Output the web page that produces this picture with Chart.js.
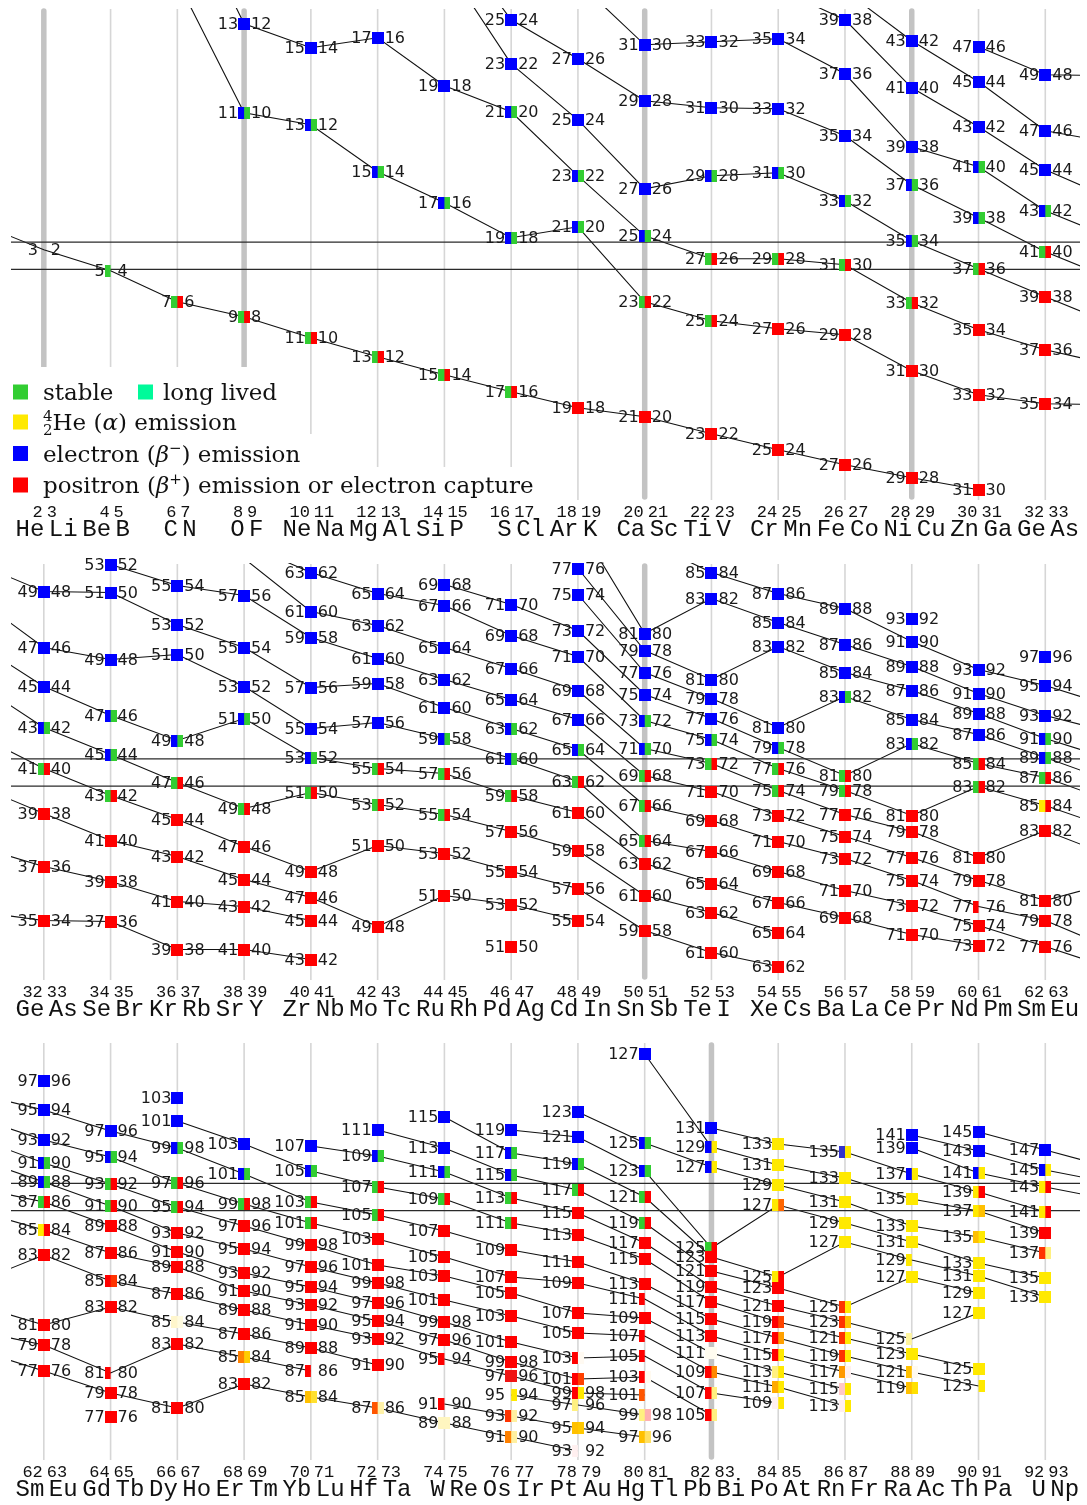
<!DOCTYPE html>
<html>
<head>
<meta charset="utf-8">
<script src="https://cdn.jsdelivr.net/npm/chart.js@4.4.0/dist/chart.umd.min.js"></script>
<style>
  body { margin: 0; background: #fff; }
  canvas { display: block; }
</style>
</head>
<body>
<canvas id="light" width="1087" height="545"></canvas>
<canvas id="middle" width="1087" height="480"></canvas>
<canvas id="heavy" width="1087" height="480"></canvas>
<script>
// element symbols, index = Z - 1
const elementSymbols = ['H','He','Li','Be','B','C','N','O','F','Ne','Na','Mg','Al','Si','P','S','Cl','Ar','K','Ca',
  'Sc','Ti','V','Cr','Mn','Fe','Co','Ni','Cu','Zn','Ga','Ge','As','Se','Br','Kr','Rb','Sr','Y','Zr',
  'Nb','Mo','Tc','Ru','Rh','Pd','Ag','Cd','In','Sn','Sb','Te','I','Xe','Cs','Ba','La','Ce','Pr','Nd',
  'Pm','Sm','Eu','Gd','Tb','Dy','Ho','Er','Tm','Yb','Lu','Hf','Ta','W','Re','Os','Ir','Pt','Au','Hg',
  'Tl','Pb','Bi','Po','At','Rn','Fr','Ra','Ac','Th','Pa','U','Np'];

const panelFirstColumn = [2, 32, 62];
const magicNumbers = [2, 8, 20, 28, 50, 82];
const stableBand = [-1.36, 1.36];

// S stable, L long lived, A alpha, B beta-, E beta+ / EC, hex = mixed modes
const decayColours = { S: '#32cd32', L: '#00fa9a', A: '#ffe900', B: '#0000ff', E: '#ff0000' };

// [even Z, N of even-Z nuclide, level, left colour, right colour]  (right nuclide: Z+1, N-1)
const lightPairs = [
  [2,3,0.6,'',''],
  [4,5,-1.5,'S',''],
  [6,7,-4.6,'S','E'],
  [8,13,23.2,'B','B'],[8,11,14.3,'B','S'],[8,9,-6.1,'S','E'],
  [10,15,20.8,'B','B'],[10,13,13.1,'B','S'],[10,11,-8.2,'S','E'],
  [12,17,21.8,'B','B'],[12,15,8.4,'B','S'],[12,13,-10.1,'S','E'],
  [14,19,17.0,'B','B'],[14,17,5.3,'B','S'],[14,15,-11.9,'S','E'],
  [16,25,23.6,'B','B'],[16,23,19.2,'B','B'],[16,21,14.4,'B','S'],[16,19,1.8,'B','S'],[16,17,-13.6,'S','E'],
  [18,27,19.7,'B','B'],[18,25,13.6,'B','B'],[18,23,8.0,'B','S'],[18,21,2.9,'B','S'],[18,19,-15.2,'E','E'],
  [20,31,21.1,'B','B'],[20,29,15.5,'B','B'],[20,27,6.7,'B','B'],[20,25,2.0,'B','S'],[20,23,-4.6,'S','E'],[20,21,-16.1,'E','E'],
  [22,33,21.4,'B','B'],[22,31,14.8,'B','B'],[22,29,8.0,'B','S'],[22,27,-0.3,'S','E'],[22,25,-6.5,'S','E'],[22,23,-17.8,'E','E'],
  [24,35,21.7,'B','B'],[24,33,14.7,'B','B'],[24,31,8.3,'B','S'],[24,29,-0.3,'S','E'],[24,27,-7.3,'E','E'],[24,25,-19.4,'E','E'],
  [26,39,23.6,'B','B'],[26,37,18.2,'B','B'],[26,35,12.0,'B','B'],[26,33,5.5,'B','S'],[26,31,-0.9,'S','E'],[26,29,-7.9,'E','E'],[26,27,-20.9,'E','E'],
  [28,43,21.5,'B','B'],[28,41,16.8,'B','B'],[28,39,10.9,'B','B'],[28,37,7.1,'B','S'],[28,35,1.5,'B','S'],[28,33,-4.7,'S','E'],[28,31,-11.5,'E','E'],[28,29,-22.2,'E','E'],
  [30,47,20.9,'B','B'],[30,45,17.4,'B','B'],[30,43,12.9,'B','B'],[30,41,8.9,'B','S'],[30,39,3.8,'B','S'],[30,37,-1.3,'S','E'],[30,35,-7.4,'E','E'],[30,33,-13.9,'E','E'],[30,31,-23.4,'E','E']
];

const middlePairs = [
  [32,49,18.1,'B','B'],[32,47,12.5,'B','B'],[32,45,8.6,'B','B'],[32,43,4.5,'B','S'],[32,41,0.4,'S','E'],[32,39,-4.1,'E','E'],[32,37,-9.4,'E','E'],[32,35,-14.8,'E','E'],
  [34,53,20.8,'B','B'],[34,51,18.0,'B','B'],[34,49,11.3,'B','B'],[34,47,5.7,'B','S'],[34,45,1.8,'B','S'],[34,43,-2.3,'S','E'],[34,41,-6.8,'E','E'],[34,39,-10.9,'E','E'],[34,37,-14.9,'E','E'],
  [36,55,18.7,'B','B'],[36,53,14.8,'B','B'],[36,51,11.8,'B','B'],[36,49,3.2,'B','S'],[36,47,-1.0,'S','E'],[36,45,-4.7,'E','E'],[36,43,-8.4,'E','E'],[36,41,-12.9,'E','E'],[36,39,-17.7,'E','E'],
  [38,57,17.7,'B','B'],[38,55,12.5,'B','B'],[38,53,8.6,'B','B'],[38,51,5.4,'B','S'],[38,49,-3.6,'S','E'],[38,47,-7.4,'E','E'],[38,45,-10.7,'E','E'],[38,43,-13.4,'E','E'],[38,41,-17.7,'E','E'],
  [40,63,20.0,'B','B'],[40,61,16.1,'B','B'],[40,59,13.5,'B','B'],[40,57,8.5,'B','B'],[40,55,4.4,'B','B'],[40,53,1.5,'B','S'],[40,51,-2.0,'S','E'],[40,49,-9.9,'E','E'],[40,47,-12.5,'E','E'],[40,45,-14.8,'E','E'],[40,43,-18.7,'E','E'],
  [42,65,17.9,'B','B'],[42,63,14.7,'B','B'],[42,61,11.4,'B','B'],[42,59,8.9,'B','B'],[42,57,5.0,'B','B'],[42,55,0.4,'S','E'],[42,53,-3.2,'S','E'],[42,51,-7.3,'E','E'],[42,49,-15.4,'E','E'],
  [44,69,18.8,'B','B'],[44,67,16.7,'B','B'],[44,65,12.5,'B','B'],[44,63,9.3,'B','B'],[44,61,6.5,'B','B'],[44,59,3.4,'B','S'],[44,57,-0.1,'S','E'],[44,55,-4.2,'S','E'],[44,53,-8.1,'E','E'],[44,51,-12.3,'E','E'],
  [46,71,16.8,'B','B'],[46,69,13.7,'B','B'],[46,67,10.4,'B','B'],[46,65,7.3,'B','B'],[46,63,4.4,'B','S'],[46,61,1.4,'B','S'],[46,59,-2.3,'S','E'],[46,57,-5.9,'E','E'],[46,55,-9.9,'E','E'],[46,53,-13.2,'E','E'],[46,51,-17.4,'E','E'],
  [48,77,20.4,'B','B'],[48,75,17.8,'B','B'],[48,73,14.2,'B','B'],[48,71,11.6,'B','B'],[48,69,8.2,'B','B'],[48,67,5.3,'B','B'],[48,65,2.3,'B','S'],[48,63,-0.9,'S','E'],[48,61,-4.0,'E','E'],[48,59,-7.8,'E','E'],[48,57,-11.6,'E','E'],[48,55,-14.8,'E','E'],
  [50,81,13.9,'B','B'],[50,79,12.2,'B','B'],[50,77,10.0,'B','B'],[50,75,7.8,'B','B'],[50,73,5.2,'B','S'],[50,71,2.4,'B','S'],[50,69,-0.3,'S','E'],[50,67,-3.3,'S','E'],[50,65,-6.8,'S','E'],[50,63,-9.1,'E','E'],[50,61,-12.3,'E','E'],[50,59,-15.8,'E','E'],
  [52,85,20.0,'B','B'],[52,83,17.4,'B','B'],[52,81,9.3,'B','B'],[52,79,7.4,'B','B'],[52,77,5.4,'B','B'],[52,75,3.3,'B','S'],[52,73,0.9,'S','E'],[52,71,-1.9,'E','E'],[52,69,-4.8,'E','E'],[52,67,-7.9,'E','E'],[52,65,-11.1,'E','E'],[52,63,-14.0,'E','E'],[52,61,-18.0,'E','E'],
  [54,87,17.9,'B','B'],[54,85,15.0,'B','B'],[54,83,12.6,'B','B'],[54,81,4.5,'B','B'],[54,79,2.5,'B','S'],[54,77,0.4,'S','E'],[54,75,-1.8,'S','E'],[54,73,-4.3,'E','E'],[54,71,-6.9,'E','E'],[54,69,-9.9,'E','E'],[54,67,-13.0,'E','E'],[54,65,-16.0,'E','E'],[54,63,-19.4,'E','E'],
  [56,89,16.4,'B','B'],[56,87,12.8,'B','B'],[56,85,10.0,'B','B'],[56,83,7.6,'B','S'],[56,81,-0.3,'S','E'],[56,79,-1.8,'S','E'],[56,77,-4.2,'E','E'],[56,75,-6.4,'E','E'],[56,73,-8.6,'E','E'],[56,71,-11.8,'E','E'],[56,69,-14.5,'E','E'],
  [58,93,15.4,'B','B'],[58,91,13.1,'B','B'],[58,89,10.6,'B','B'],[58,87,8.2,'B','B'],[58,85,5.3,'B','B'],[58,83,2.9,'B','S'],[58,81,-4.3,'E','E'],[58,79,-5.9,'E','E'],[58,77,-8.5,'E','E'],[58,75,-10.8,'E','E'],[58,73,-13.3,'E','E'],[58,71,-16.2,'E','E'],
  [60,93,10.3,'B','B'],[60,91,7.9,'B','B'],[60,89,5.9,'B','B'],[60,87,3.8,'B','B'],[60,85,0.9,'S','E'],[60,83,-1.4,'S','E'],[60,81,-8.5,'E','E'],[60,79,-10.8,'E','E'],[60,77,-13.4,'E',''],[60,75,-15.3,'E','E'],[60,73,-17.3,'E','E']
];

const heavyPairs = [
  [62,97,11.6,'B','B'],[62,95,8.7,'B','B'],[62,93,5.7,'B','B'],[62,91,3.4,'B','S'],[62,89,1.5,'B','S'],[62,87,-0.5,'S','E'],[62,85,-3.3,'A','E'],[62,83,-5.8,'E','E'],[62,81,-12.8,'E','E'],[62,79,-14.8,'E','E'],[62,77,-17.4,'E','E'],
  [64,97,6.6,'B','B'],[64,95,4.0,'B','S'],[64,93,1.3,'S','E'],[64,91,-0.9,'S','E'],[64,89,-2.9,'E','E'],[64,87,-5.6,'E','E'],[64,85,-8.4,'E','#ff3300'],[64,83,-11.0,'E','E'],[64,81,-17.6,'E',''],[64,79,-19.6,'E','E'],[64,77,-22.0,'E','E'],
  [66,103,9.9,'B','B'],[66,101,7.6,'B','B'],[66,99,4.9,'B','S'],[66,97,1.4,'S','E'],[66,95,-1.0,'S','E'],[66,93,-3.6,'E','E'],[66,91,-5.5,'E','E'],[66,89,-7.0,'E','E'],[66,87,-9.7,'E','E'],[66,85,-12.5,'#fff6cc','#fffbe0'],[66,83,-14.7,'E','E'],[66,81,-21.1,'E','E'],
  [68,103,5.3,'B','B'],[68,101,2.3,'B','S'],[68,99,-0.7,'S','E'],[68,97,-2.9,'E','E'],[68,95,-5.2,'E','E'],[68,93,-7.6,'E','E'],[68,91,-9.4,'E','E'],[68,89,-11.3,'E','E'],[68,87,-13.7,'E','E'],[68,85,-16.0,'#ff8000','#ffcc00'],[68,83,-18.7,'E','E'],
  [70,107,5.1,'B','B'],[70,105,2.6,'B','S'],[70,103,-0.5,'S','E'],[70,101,-2.6,'S','E'],[70,99,-4.8,'E','E'],[70,97,-7.0,'E','E'],[70,95,-9.0,'E','E'],[70,93,-10.8,'E','E'],[70,91,-12.8,'E','E'],[70,89,-15.1,'E','E'],[70,87,-17.4,'E',''],[70,85,-20.0,'#ffc000','#ffe030'],
  [72,111,6.7,'B','B'],[72,109,4.1,'B','S'],[72,107,1.0,'S','E'],[72,105,-1.8,'S','E'],[72,103,-4.2,'E','E'],[72,101,-6.8,'E','E'],[72,99,-8.6,'E','E'],[72,97,-10.6,'E','E'],[72,95,-12.4,'E','E'],[72,93,-14.2,'E','E'],[72,91,-16.8,'E','E'],[72,87,-21.1,'#ff5500','#fff2a8'],
  [74,115,8.0,'B','B'],[74,113,4.9,'B','B'],[74,111,2.5,'B','S'],[74,109,-0.2,'S','E'],[74,107,-3.4,'E','E'],[74,105,-6.0,'E','E'],[74,103,-7.9,'E','E'],[74,101,-10.3,'E','E'],[74,99,-12.5,'E','E'],[74,97,-14.3,'E','E'],[74,95,-16.2,'E',''],[74,91,-20.7,'E',''],[74,89,-22.6,'#fff6c0','#fff6c0'],
  [76,119,6.7,'B','B'],[76,117,4.4,'B','S'],[76,115,2.2,'B','S'],[76,113,-0.1,'S','E'],[76,111,-2.6,'S','E'],[76,109,-5.3,'E','E'],[76,107,-8.0,'E','E'],[76,105,-9.6,'E','E'],[76,103,-11.9,'E','E'],[76,101,-14.5,'E','E'],[76,99,-16.5,'E','E'],[76,97,-17.9,'#f01414','#f01414'],[76,95,-19.8,'','A'],[76,93,-21.9,'#ff3300','#fff0a0'],[76,91,-24.0,'#ff8000','#fff0a0'],
  [78,123,8.5,'B','B'],[78,121,6.0,'B','B'],[78,119,3.3,'B','S'],[78,117,0.7,'S','E'],[78,115,-1.6,'E','E'],[78,113,-3.8,'E','E'],[78,111,-6.5,'E','E'],[78,109,-8.6,'E','E'],[78,107,-11.6,'E','E'],[78,105,-13.6,'E','E'],[78,103,-16.1,'E','#fffaf2'],[78,101,-18.2,'E','#ff4000'],[78,99,-19.6,'E','A'],[78,97,-20.8,'#fff080',''],[78,95,-23.1,'#ffc000','#ffc800'],[78,93,-25.4,'#fff0f0',''],
  [80,127,14.3,'B','B'],[80,125,5.4,'B','S'],[80,123,2.6,'B','S'],[80,121,0.0,'S','E'],[80,119,-2.6,'S','E'],[80,117,-4.6,'E','E'],[80,115,-6.2,'E','E'],[80,113,-8.7,'E','E'],[80,111,-10.2,'E',''],[80,109,-12.1,'E','E'],[80,107,-13.9,'E',''],[80,105,-15.9,'E',''],[80,103,-18.0,'E','#fffaf0'],[80,101,-19.8,'#ff5500',''],[80,99,-21.8,'#fff080','#ffb0b0'],[80,97,-24.0,'#ffc000','#ffe060'],
  [82,131,6.9,'B','B'],[82,129,5.0,'B','A'],[82,127,3.0,'B','A'],[82,125,-5.1,'S','E'],[82,123,-6.0,'E','E'],[82,121,-7.4,'E','E'],[82,119,-9.0,'E','E'],[82,117,-10.5,'E','E'],[82,115,-12.2,'E','E'],[82,113,-13.9,'E','E'],[82,111,-15.6,'#fffcf0','#fffcf0'],[82,109,-17.5,'E','#ff8800'],[82,107,-19.6,'E','#fff080'],[82,105,-21.8,'E','#fff080'],
  [84,133,5.3,'A','A'],[84,131,3.2,'A','A'],[84,129,1.2,'A','A'],[84,127,-0.8,'A','#ff6600'],[84,125,-8.0,'A','E'],[84,123,-9.1,'E','E'],[84,121,-10.9,'E','E'],[84,119,-12.5,'E','#ff4400'],[84,117,-14.1,'E','#ffa000'],[84,115,-15.8,'E','A'],[84,113,-17.5,'#fff080','A'],[84,111,-19.0,'#ffaa00','A'],[84,109,-20.6,'#fff0f0','A'],
  [86,135,4.5,'#3333cc','A'],[86,133,1.9,'A','A'],[86,131,-0.5,'A','A'],[86,129,-2.6,'A','A'],[86,127,-4.5,'A','A'],[86,125,-11.0,'#ff3300','A'],[86,123,-12.5,'#ff3300','#ffc000'],[86,121,-14.1,'#ff3300','A'],[86,119,-15.9,'#ff3300','A'],[86,117,-17.5,'#ff9900','#fff0f0'],[86,115,-19.2,'#ffc8c8','A'],[86,113,-20.9,'#ffeeee','A'],
  [88,141,6.2,'B','B'],[88,139,4.9,'B','B'],[88,137,2.3,'B','A'],[88,135,-0.2,'A','A'],[88,133,-2.9,'A','A'],[88,131,-4.5,'A','A'],[88,129,-6.3,'A',''],[88,127,-8.0,'A','A'],[88,125,-14.2,'#fff59d',''],[88,123,-15.7,'A','A'],[88,121,-17.5,'#ffc000','#fffaf0'],[88,119,-19.1,'#ffc000','#ffe000'],
  [90,145,6.5,'B','B'],[90,143,4.6,'B','B'],[90,141,2.4,'B','A'],[90,139,0.5,'A','E'],[90,137,-1.4,'A','#ffc000'],[90,135,-4.0,'#ffc000','A'],[90,133,-6.6,'A','A'],[90,131,-7.9,'A','A'],[90,129,-9.6,'A','A'],[90,127,-11.6,'A','A'],[90,125,-17.2,'A','A'],[90,123,-18.9,'','A'],
  [92,147,4.7,'B','B'],[92,145,2.7,'B','A'],[92,143,1.0,'A','E'],[92,141,-1.5,'A','E'],[92,139,-3.6,'E','E'],[92,137,-5.6,'#ff3300','#fff080'],[92,135,-8.1,'A','A'],[92,133,-10.0,'A','A']
];

// where a line leaves the visible window: [even Z, N, level] (no square drawn)
const lineExtensions = [
  [0,1,3.3],[6,9,27.5],[6,11,36.8],[14,21,29.3],[14,23,32.6],[18,29,27.4],[24,37,26.7],[26,41,26.5],
  [38,59,21.4],[38,61,22.9],[48,79,24.9],[50,83,23.2],
  [94,149,2.9],[94,147,1.4],[94,145,-0.3]
];

const allPairs = [...lightPairs, ...middlePairs, ...heavyPairs];

// one line per constant N - Z
function isodiapheres() {
  const groups = {};
  allPairs.map(p => [p[0], p[1], p[2]]).concat(lineExtensions).forEach(([z, n, y]) => {
    const d = n - z;
    (groups[d] = groups[d] || []).push({ x: z, y: y });
  });
  return Object.keys(groups).map(d => {
    const pts = groups[d].sort((a, b) => a.x - b.x);
    const data = [];
    pts.forEach((p, i) => {
      if (i > 0 && p.x - pts[i - 1].x > 2) data.push({ x: p.x - 1, y: null });
      data.push(p);
    });
    return data;
  }).filter(d => d.length > 1);
}

const squareCache = {};
function colourOf(k) { return decayColours[k] || k; }
function squareImage(left, right) {
  const key = left + '|' + right;
  if (!squareCache[key]) {
    const c = document.createElement('canvas');
    c.width = 12; c.height = 12;
    const g = c.getContext('2d');
    if (left) { g.fillStyle = colourOf(left); g.fillRect(0, 0, 6, 12); }
    if (right) { g.fillStyle = colourOf(right); g.fillRect(6, 0, 6, 12); }
    squareCache[key] = c;
  }
  return squareCache[key];
}

const columnGrid = {
  id: 'columnGrid',
  beforeDatasetsDraw(chart, args, opts) {
    const { ctx, chartArea, scales: { x } } = chart;
    ctx.save();
    for (let z = opts.first; z <= opts.first + 30; z += 2) {
      const px = x.getPixelForValue(z);
      const magic = magicNumbers.includes(z);
      ctx.beginPath();
      ctx.lineWidth = magic ? 5.5 : 1.6;
      ctx.strokeStyle = magic ? '#c3c3c3' : '#d6d6d6';
      ctx.lineCap = magic ? 'round' : 'butt';
      ctx.moveTo(px, chartArea.top + (magic ? 3 : 1));
      ctx.lineTo(px, chartArea.bottom - (magic ? 3 : 0));
      ctx.stroke();
    }
    ctx.restore();
  }
};

const pairLabels = {
  id: 'pairLabels',
  afterDatasetsDraw(chart) {
    const ctx = chart.ctx;
    const meta = chart.getDatasetMeta(0);
    const data = chart.data.datasets[0].data;
    ctx.save();
    ctx.font = '16px "DejaVu Sans"';
    ctx.fillStyle = '#1a1a1a';
    ctx.textBaseline = 'middle';
    meta.data.forEach((el, i) => {
      const p = data[i];
      ctx.textAlign = 'right';
      ctx.fillText(String(p.n), el.x - 6, el.y + 1);
      if (p.n - 1 < 100) {
        ctx.textAlign = 'left';
        ctx.fillText(String(p.n - 1), el.x + 7, el.y + 1);
      }
    });
    ctx.restore();
  }
};

const columnLabels = {
  id: 'columnLabels',
  afterDraw(chart, args, opts) {
    const { ctx, chartArea, scales: { x } } = chart;
    ctx.save();
    ctx.fillStyle = '#111';
    ctx.textBaseline = 'middle';
    for (let z = opts.first; z <= opts.first + 30; z += 2) {
      const px = x.getPixelForValue(z);
      ctx.font = '17px "Liberation Mono"';
      ctx.textAlign = 'right';
      ctx.fillText(String(z), px - 1, chartArea.bottom + 12);
      ctx.textAlign = 'left';
      ctx.fillText(String(z + 1), px + 3, chartArea.bottom + 12);
      ctx.font = '24px "Liberation Mono"';
      ctx.textAlign = 'right';
      ctx.fillText(elementSymbols[z - 1], px + 0.5, chartArea.bottom + 30);
      ctx.textAlign = 'left';
      ctx.fillText(elementSymbols[z], px + 5, chartArea.bottom + 30);
    }
    ctx.restore();
  }
};

function drawPieces(ctx, x, base, pieces) {
  pieces.forEach(p => {
    ctx.font = p.f;
    ctx.fillText(p.t, x, base + (p.dy || 0));
    if (!p.stay) x += ctx.measureText(p.t).width;
  });
}

const decayLegend = {
  id: 'decayLegend',
  afterDraw(chart) {
    const ctx = chart.ctx;
    const R = '23px "DejaVu Serif"', I = 'italic 23px "DejaVu Serif"', s = '15px "DejaVu Serif"';
    ctx.save();
    ctx.fillStyle = '#fff';
    ctx.fillRect(0, 367, 284, 40);
    ctx.fillRect(0, 405, 250, 32);
    ctx.fillRect(0, 434, 320, 34);
    ctx.fillRect(0, 467, 548, 36);
    const rows = [392, 422, 453.5, 485];
    const box = (x, c, col) => { ctx.fillStyle = col; ctx.fillRect(x, c - 7.5, 15, 15); };
    box(13, rows[0], decayColours.S); box(138, rows[0], decayColours.L);
    box(13, rows[1], decayColours.A); box(13, rows[2], decayColours.B); box(13, rows[3], decayColours.E);
    ctx.fillStyle = '#111';
    ctx.textAlign = 'left';
    ctx.textBaseline = 'alphabetic';
    drawPieces(ctx, 43, rows[0] + 8, [{ f: R, t: 'stable' }]);
    drawPieces(ctx, 163, rows[0] + 8, [{ f: R, t: 'long lived' }]);
    drawPieces(ctx, 43, rows[1] + 8, [
      { f: s, t: '4', dy: -9, stay: true }, { f: s, t: '2', dy: 5 },
      { f: R, t: 'He (' }, { f: I, t: 'α' }, { f: R, t: ') emission' }]);
    drawPieces(ctx, 43, rows[2] + 8, [
      { f: R, t: 'electron (' }, { f: I, t: 'β' }, { f: s, t: '−', dy: -9 }, { f: R, t: ') emission' }]);
    drawPieces(ctx, 43, rows[3] + 8, [
      { f: R, t: 'positron (' }, { f: I, t: 'β' }, { f: s, t: '+', dy: -9 }, { f: R, t: ') emission or electron capture' }]);
    ctx.restore();
  }
};

function makePanel(id, first, yMin, yMax, padTop, legend) {
  const squares = allPairs.filter(p => p[0] >= first && p[0] <= first + 30)
    .map(p => ({ x: p[0], y: p[2], n: p[1], left: p[3], right: p[4] }));
  const xMin = first - 0.983, xMax = first + 31.04;
  const datasets = [{
    data: squares,
    showLine: false,
    clip: false,
    pointRadius: 6,
    pointStyle: ctx => ctx.raw ? squareImage(ctx.raw.left, ctx.raw.right) : 'rect'
  }];
  stableBand.forEach(b => datasets.push({
    data: [{ x: xMin, y: b }, { x: xMax, y: b }],
    borderColor: '#2a2a2a', borderWidth: 1.2, pointRadius: 0
  }));
  isodiapheres().forEach(line => datasets.push({
    data: line, borderColor: '#111', borderWidth: 1.1, pointRadius: 0, spanGaps: false, tension: 0
  }));
  const plugins = [columnGrid, pairLabels, columnLabels];
  if (legend) plugins.push(decayLegend);
  new Chart(document.getElementById(id), {
    type: 'line',
    data: { datasets },
    options: {
      responsive: false,
      animation: false,
      events: [],
      layout: { padding: { left: 11, right: 1, top: padTop, bottom: 45 } },
      scales: {
        x: { type: 'linear', min: xMin, max: xMax, display: false },
        y: { type: 'linear', min: yMin, max: yMax, display: false }
      },
      plugins: {
        legend: { display: false },
        tooltip: { enabled: false },
        columnGrid: { first },
        columnLabels: { first }
      }
    },
    plugins
  });
}

makePanel('light', panelFirstColumn[0], -24.42, 24.78, 8, true);
makePanel('middle', panelFirstColumn[1], -20.75, 20.95, 18, false);
makePanel('heavy', panelFirstColumn[2], -26.3, 15.5, 17, false);
</script>
</body>
</html>
